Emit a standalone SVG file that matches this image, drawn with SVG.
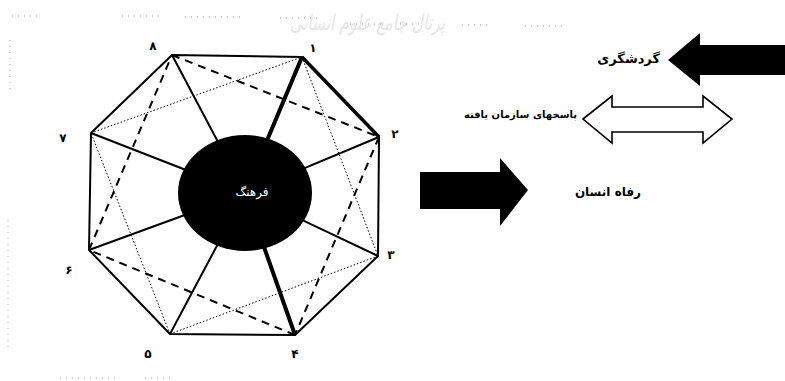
<svg xmlns="http://www.w3.org/2000/svg" width="785" height="381" viewBox="0 0 785 381">
<style>
.edge{stroke:#000;stroke-width:2;fill:none;stroke-linejoin:round}
.spoke{stroke:#000;stroke-width:2}
.thick{stroke:#000;stroke-width:4}
.dash{stroke:#000;stroke-width:2;stroke-dasharray:8 6}
.dot{stroke:#000;stroke-width:1;stroke-dasharray:1.5 2}
.num{font-family:"DejaVu Sans",sans-serif;font-weight:bold;font-size:12px;fill:#000;text-anchor:middle}
.lbl{font-family:"DejaVu Sans",sans-serif;font-weight:bold;fill:#000;text-anchor:end}
.scan{stroke:#999;stroke-width:1;stroke-dasharray:1 5}
</style>
<rect width="785" height="381" fill="#fff"/>
<text x="290" y="30" textLength="155" lengthAdjust="spacingAndGlyphs" font-family="DejaVu Sans, sans-serif" font-size="22" font-style="italic" fill="#e6e6e6">پرتال جامع علوم انسانی</text>
<g id="scan-marks">
<line class="scan" x1="12" y1="16" x2="40" y2="16"/>
<line class="scan" x1="122" y1="16" x2="160" y2="16"/>
<line class="scan" x1="185" y1="17" x2="240" y2="17"/>
<line class="scan" x1="280" y1="18" x2="320" y2="18"/>
<line class="scan" x1="350" y1="24" x2="385" y2="24"/>
<line class="scan" x1="400" y1="24" x2="420" y2="24"/>
<line class="scan" x1="462" y1="25" x2="492" y2="25"/>
<line class="scan" x1="525" y1="26" x2="565" y2="26"/>
<line class="scan" x1="10" y1="40" x2="10" y2="92"/>
<line class="scan" x1="8" y1="220" x2="8" y2="350"/>
<line class="scan" x1="60" y1="378" x2="120" y2="378"/>
<line class="scan" x1="145" y1="378" x2="170" y2="378"/>
</g>
<g id="connectors">
<line class="dash" x1="172" y1="55" x2="379" y2="137"/>
<line class="dash" x1="379" y1="137" x2="295" y2="335"/>
<line class="dash" x1="295" y1="335" x2="89" y2="250"/>
<line class="dash" x1="89" y1="250" x2="172" y2="55"/>
<line class="dot" x1="302" y1="57" x2="378" y2="256"/>
<line class="dot" x1="378" y1="256" x2="170" y2="334"/>
<line class="dot" x1="170" y1="334" x2="91" y2="133"/>
<line class="dot" x1="91" y1="133" x2="302" y2="57"/>
<line class="spoke" x1="172" y1="55" x2="245" y2="193"/>
<line class="thick" x1="302" y1="57" x2="245" y2="193"/>
<line class="spoke" x1="379" y1="137" x2="245" y2="193"/>
<line class="spoke" x1="378" y1="256" x2="245" y2="193"/>
<line class="thick" x1="295" y1="335" x2="245" y2="193"/>
<line class="spoke" x1="170" y1="334" x2="245" y2="193"/>
<line class="spoke" x1="89" y1="250" x2="245" y2="193"/>
<line class="spoke" x1="91" y1="133" x2="245" y2="193"/>
<polygon class="edge" points="172,55 302,57 379,137 378,256 295,335 170,334 89,250 91,133"/>
<line stroke="#000" stroke-width="3.5" x1="302" y1="57" x2="379" y2="137"/>
</g>
<g id="culture">
<ellipse cx="245" cy="193" rx="67" ry="58" fill="#000"/>
<text x="252" y="196" font-family="DejaVu Sans, sans-serif" font-size="12" fill="#fff" text-anchor="middle">فرهنگ</text>
</g>
<g id="labels">
<text class="num" x="153" y="50">۸</text>
<text class="num" x="313" y="52">۱</text>
<text class="num" x="395" y="138">۲</text>
<text class="num" x="391" y="259">۳</text>
<text class="num" x="295" y="358">۴</text>
<text class="num" x="148" y="358">۵</text>
<text class="num" x="69" y="274">۶</text>
<text class="num" x="63" y="142">۷</text>
</g>
<g id="tourism">
<polygon points="668,60 700,33 700,45 785,45 785,75 700,75 700,86" fill="#000"/>
<text class="lbl" x="660" y="63" font-size="13">گردشگری</text>
</g>
<g id="responses">
<polygon points="583,119 612,96 612,107 703,107 703,96 732,119 703,143 703,132 612,132 612,143" fill="#fff" stroke="#000" stroke-width="1.6" stroke-linejoin="miter"/>
<text class="lbl" x="577" y="118" font-size="10">پاسخهای سازمان یافته</text>
</g>
<g id="welfare">
<polygon points="420,172 500,172 500,158 528,190 500,226 500,209 420,209" fill="#000"/>
<text class="lbl" x="641" y="196" font-size="12">رفاه انسان</text>
</g>
</svg>
